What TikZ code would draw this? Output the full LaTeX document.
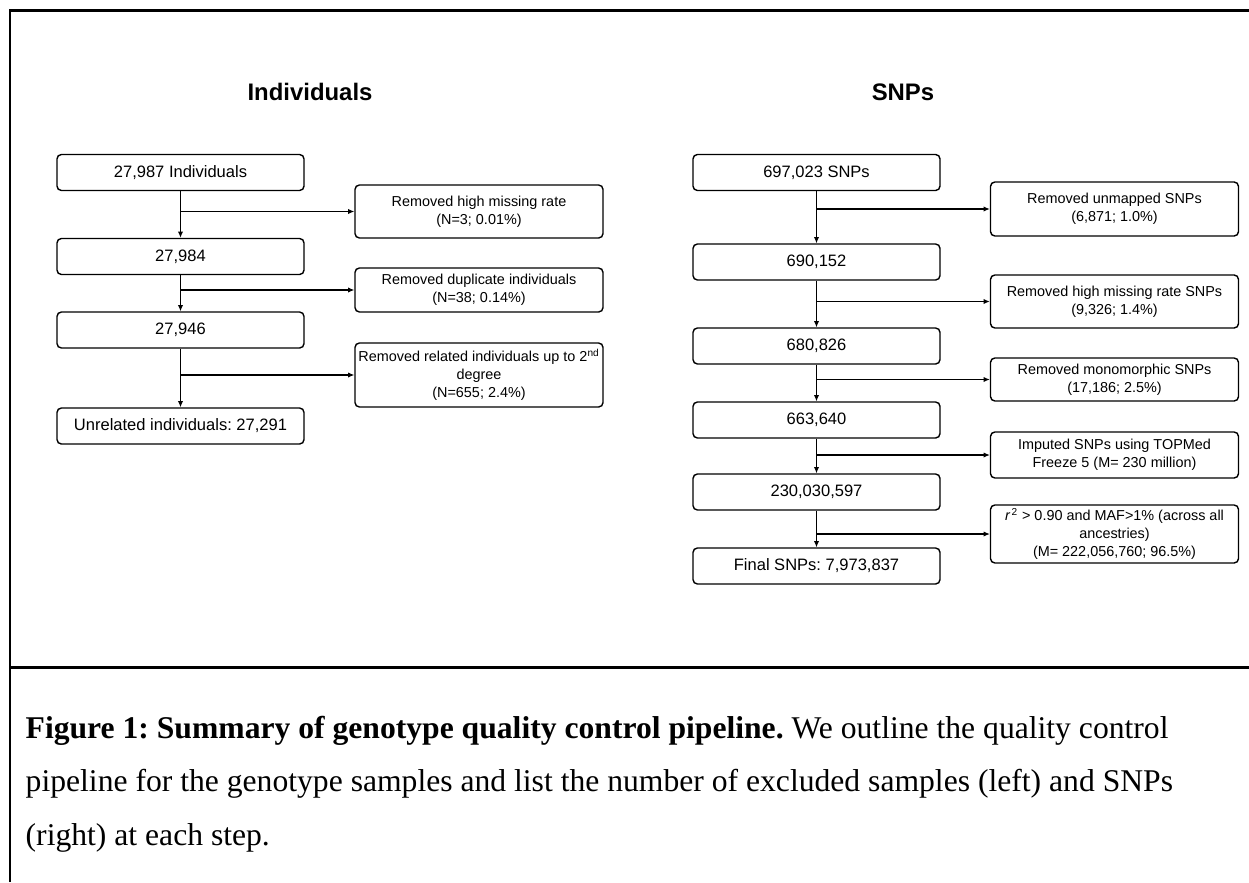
\documentclass[tikz,border=0pt]{standalone}
\usepackage{fontspec}
\setmainfont{Liberation Serif}
\setsansfont{Liberation Sans}
\usetikzlibrary{arrows.meta}
\frenchspacing

\begin{document}
\begin{tikzpicture}[line width=0.8pt,
  stepbox/.style={draw, rounded corners=2.5pt, minimum width=4.94cm, minimum height=0.72cm, inner sep=0pt, font=\sffamily\fontsize{9.4}{11}\selectfont},
  dropbox/.style={draw, rounded corners=2.5pt, minimum width=4.96cm, align=center, inner sep=0pt, font=\sffamily\fontsize{8.2}{10.2}\selectfont},
  heading/.style={font=\sffamily\bfseries\fontsize{13.6}{16}\selectfont},
  flow/.style={-{Latex[length=3.5pt,width=3pt]}, line width=0.6pt},
  frame/.style={line width=1.7pt}]
\useasboundingbox (0,0) rectangle (24.98,-17.64);

% frame of the figure
\draw[frame] (0.2,-17.64) -- (0.2,-0.21) -- (24.98,-0.21);
\draw[frame] (0.2,-13.34) -- (24.98,-13.34);

% individuals
\node[heading] (indtitle) at (6.2,-1.84) {Individuals};
\node[stepbox] (ind1) at (3.61,-3.45) {27,987 Individuals};
\node[stepbox] (ind2) at (3.61,-5.13) {27,984};
\node[stepbox] (ind3) at (3.61,-6.60) {27,946};
\node[stepbox] (ind4) at (3.61,-8.52) {Unrelated individuals: 27,291};
\node[dropbox, minimum height=1.06cm] (indrm1) at (9.58,-4.23) {Removed high missing rate\\(N=3; 0.01\%)};
\node[dropbox, minimum height=0.88cm] (indrm2) at (9.58,-5.80) {Removed duplicate individuals\\(N=38; 0.14\%)};
\node[dropbox, minimum height=1.28cm] (indrm3) at (9.58,-7.50) {Removed related individuals up to 2\textsuperscript{nd}\\degree\\(N=655; 2.4\%)};

\draw[flow] (ind1.south) -- (ind2.north);
\draw[flow] (ind2.south) -- (ind3.north);
\draw[flow] (ind3.south) -- (ind4.north);
\draw[flow] (ind1.south |- indrm1.west) -- (indrm1.west);
\draw[flow] (ind2.south |- indrm2.west) -- (indrm2.west);
\draw[flow] (ind3.south |- indrm3.west) -- (indrm3.west);

% snps
\node[heading] (snptitle) at (18.06,-1.84) {SNPs};
\node[stepbox] (snp1) at (16.33,-3.45) {697,023 SNPs};
\node[stepbox] (snp2) at (16.33,-5.24) {690,152};
\node[stepbox] (snp3) at (16.33,-6.92) {680,826};
\node[stepbox] (snp4) at (16.33,-8.40) {663,640};
\node[stepbox] (snp5) at (16.33,-9.84) {230,030,597};
\node[stepbox] (snp6) at (16.33,-11.32) {Final SNPs: 7,973,837};
\node[dropbox, minimum height=1.08cm] (snprm1) at (22.29,-4.18) {Removed unmapped SNPs\\(6,871; 1.0\%)};
\node[dropbox, minimum height=1.06cm] (snprm2) at (22.29,-6.03) {Removed high missing rate SNPs\\(9,326; 1.4\%)};
\node[dropbox, minimum height=0.86cm] (snprm3) at (22.29,-7.59) {Removed monomorphic SNPs\\(17,186; 2.5\%)};
\node[dropbox, minimum height=0.92cm] (snprm4) at (22.29,-9.10) {Imputed SNPs using TOPMed\\Freeze 5 (M= 230 million)};
\node[dropbox, minimum height=1.16cm] (snprm5) at (22.29,-10.68) {{\itshape r}\textsuperscript{\,2} > 0.90 and MAF>1\% (across all\\ancestries)\\(M= 222,056,760; 96.5\%)};

\draw[flow] (snp1.south) -- (snp2.north);
\draw[flow] (snp2.south) -- (snp3.north);
\draw[flow] (snp3.south) -- (snp4.north);
\draw[flow] (snp4.south) -- (snp5.north);
\draw[flow] (snp5.south) -- (snp6.north);
\draw[flow] (snp1.south |- snprm1.west) -- (snprm1.west);
\draw[flow] (snp2.south |- snprm2.west) -- (snprm2.west);
\draw[flow] (snp3.south |- snprm3.west) -- (snprm3.west);
\draw[flow] (snp4.south |- snprm4.west) -- (snprm4.west);
\draw[flow] (snp5.south |- snprm5.west) -- (snprm5.west);

% caption
\node[anchor=west, align=left, inner sep=0pt, font=\fontsize{18}{30.4}\selectfont] (caption) at (0.5,-15.68) {\textbf{Figure 1: Summary of genotype quality control pipeline.} We outline the quality control\\pipeline for the genotype samples and list the number of excluded samples (left) and SNPs\\(right) at each step.};
\end{tikzpicture}
\end{document}
